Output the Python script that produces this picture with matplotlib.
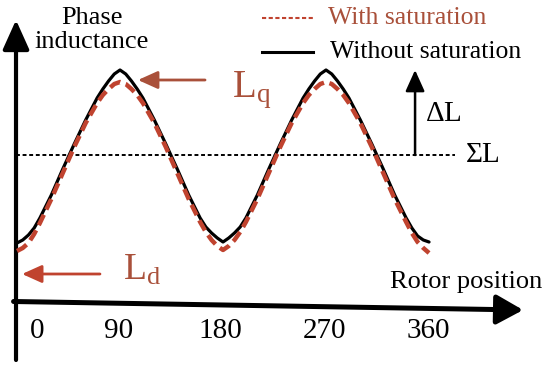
import numpy as np
import matplotlib.pyplot as plt

plt.rcParams['font.family'] = ['Liberation Serif', 'DejaVu Serif']
plt.rcParams['mathtext.fontset'] = 'custom'
plt.rcParams['mathtext.rm'] = 'Liberation Serif'
plt.rcParams['mathtext.it'] = 'Liberation Serif'

# rotor position (deg) and phase inductance (arbitrary units)
theta = [0, 5, 10, 15, 20, 30, 40, 50, 60, 70, 75, 80, 85, 90, 95, 100, 105, 110,
         120, 130, 140, 150, 160, 165, 170, 175, 180, 185, 190, 195, 200,
         210, 220, 230, 240, 250, 255, 260, 265, 270, 275, 280, 285, 290,
         300, 310, 320, 330, 340, 345, 350, 355, 360]
L_nosat = [60, 63, 68, 75, 85, 108, 134, 159, 183, 205, 214, 222, 229, 233, 229, 222, 214, 205,
           183, 159, 134, 108, 85, 76, 70, 65, 61, 65, 70, 76, 85,
           108, 134, 159, 183, 205, 214, 222, 229, 233, 229, 222, 214, 205,
           183, 159, 134, 108, 85, 75, 67, 63, 61]
L_sat = [52, 55, 60, 69, 80, 104, 130, 156, 180, 200, 208, 214, 219, 221, 219, 214, 208, 200,
         180, 156, 130, 104, 81, 71, 63, 57, 53, 57, 63, 71, 81,
         104, 130, 156, 180, 200, 208, 214, 219, 221, 219, 214, 208, 200,
         180, 156, 130, 104, 81, 70, 61, 55, 50]
L_mean = 148
tick_vals = [0, 90, 180, 270, 360]
tick_labels = ['0', '90', '180', '270', '360']

RED = '#C0432F'
BROWN = '#A9503A'

fig = plt.figure(figsize=(5.5, 3.67), dpi=100)
ax = fig.add_axes([0, 0, 1, 1])
ax.set_xlim(-14.86, 465.7)
ax.set_ylim(-64, 303)
ax.axis('off')

# curves
ax.plot(theta, L_nosat, color='black', lw=2.3, solid_capstyle='round',
        solid_joinstyle='round', zorder=3)
ax.plot(theta, L_sat, color=RED, lw=3.2, dashes=(2.6, 1.3), dash_joinstyle='round', zorder=4)

# average level
ax.plot([-0.9, 382.7], [L_mean, L_mean], color='black', lw=1.4, dashes=(2.0, 1.4), zorder=2)
ax.text(391.5, L_mean, r'$\Sigma$L', fontsize=21, ha='left', va='center')

# axes arrows
ax.annotate('', xy=(-0.87, 283), xytext=(-0.87, -57),
            arrowprops=dict(arrowstyle='-|>,head_length=1.0,head_width=0.45', lw=3,
                            color='black', mutation_scale=18, shrinkA=0, shrinkB=0))
ax.annotate('', xy=(442.2, -7), xytext=(-3, 1.5),
            arrowprops=dict(arrowstyle='-|>,head_length=0.9,head_width=0.5', lw=3.6,
                            color='black', mutation_scale=18, shrinkA=0, shrinkB=0))

label_x = [17.5, 88.3, 177.4, 269.1, 359.1]
for x, lab in zip(label_x, tick_labels):
    ax.text(x, -28, lab, fontsize=21, ha='center', va='center')

ax.text(65.5, 273, 'Phase\ninductance', fontsize=19, ha='center', va='center', linespacing=1.1)
ax.text(458.8, 21, 'Rotor position', fontsize=19, ha='right', va='center')

# delta L
ax.annotate('', xy=(347.8, 233), xytext=(347.8, L_mean),
            arrowprops=dict(arrowstyle='-|>,head_length=1.0,head_width=0.45', lw=1.8,
                            color='black', mutation_scale=13, shrinkA=0, shrinkB=0))
ax.text(356.5, 189, r'$\Delta$L', fontsize=21, ha='left', va='center')

# Lq / Ld markers
ax.annotate('', xy=(105.7, 223), xytext=(164.3, 223),
            arrowprops=dict(arrowstyle='-|>,head_length=1.0,head_width=0.45', lw=2.0,
                            color=BROWN, mutation_scale=12, shrinkA=0, shrinkB=0))
ax.text(187.5, 213, r'$\mathrm{L_q}$', fontsize=28, color=BROWN, ha='left', va='center')
ax.annotate('', xy=(4.4, 29), xytext=(72.5, 29),
            arrowprops=dict(arrowstyle='-|>,head_length=1.0,head_width=0.45', lw=2.0,
                            color=RED, mutation_scale=12, shrinkA=0, shrinkB=0))
ax.text(92.6, 33, r'$\mathrm{L_d}$', fontsize=27, color=BROWN, ha='left', va='center')

# legend
ax.plot([214.1, 258.7], [285, 285], color=RED, lw=1.5, dashes=(2.0, 1.2))
ax.text(271.8, 285, 'With saturation', fontsize=18.5, color=BROWN, ha='left', va='center')
ax.plot([214.1, 258.7], [251, 251], color='black', lw=2.2)
ax.text(273.5, 251, 'Without saturation', fontsize=18.5, color='black', ha='left', va='center')

fig.savefig('out.png', dpi=100)
